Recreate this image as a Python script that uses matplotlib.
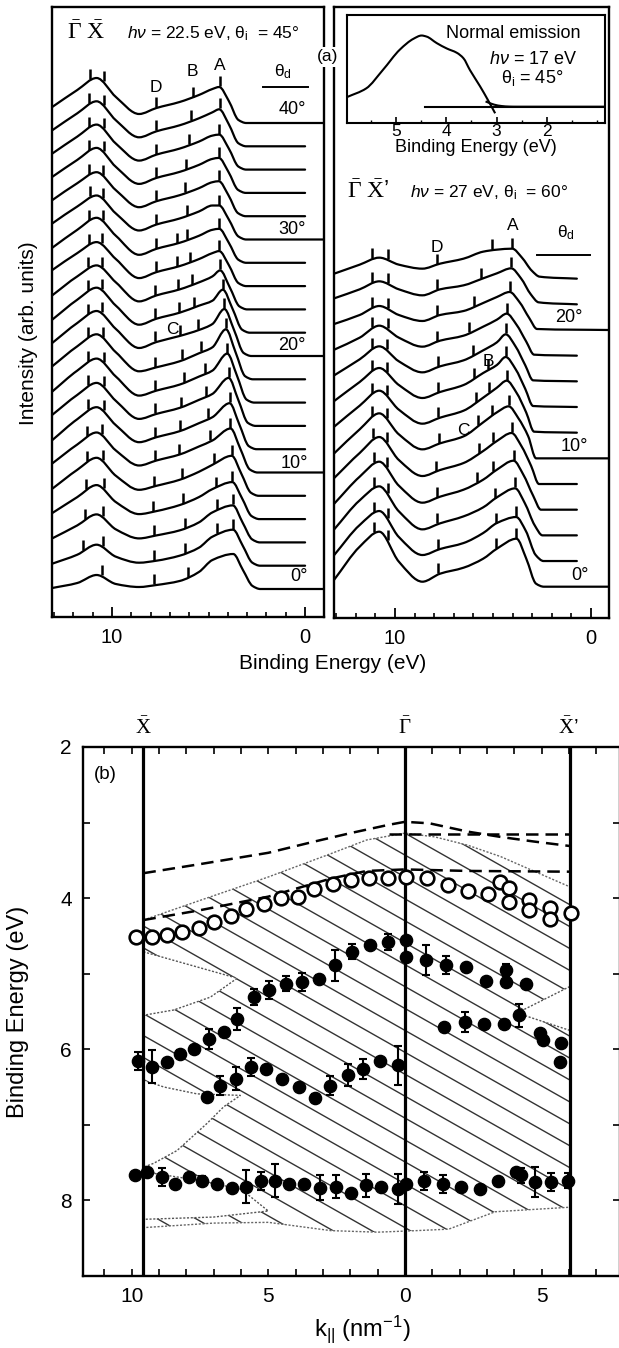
import numpy as np
import matplotlib
matplotlib.use("Agg")
import matplotlib.pyplot as plt
from matplotlib.path import Path
from matplotlib.patches import PathPatch, Polygon
from matplotlib.lines import Line2D
from matplotlib.ticker import FixedLocator, FuncFormatter, MultipleLocator

plt.rcParams.update({
    "font.family": ["Liberation Sans", "DejaVu Sans"],
    "mathtext.fontset": "custom",
    "mathtext.rm": "Liberation Serif",
    "mathtext.it": "Liberation Sans:italic",
    "mathtext.sf": "Liberation Sans",
    "mathtext.bf": "Liberation Sans:bold",
})

W, H = 619, 1348

# ------------------------------------------------------------------ panel (a), left: Gamma-X, hv = 22.5 eV
L_THETA = [40, 38, 36, 34, 32, 30, 28, 26, 24, 22, 20, 18, 16, 14, 12, 10, 8, 6, 4, 2, 0]
KNOT_E = [13.1, 11.8, 10.8, 9.8, 8.6, 7.7, 6.5, 5.5, 4.8]
L_H131 = [16, 16, 16, 16, 16, 16, 15, 16, 14, 13, 13, 13, 11, 11, 9, 9, 7, 6, 4, 2, 1]
L_H118 = [33, 33, 33, 33, 33, 33, 33, 33, 33, 33, 33, 33, 32, 31, 30, 28, 26, 22, 17, 11, 6]
L_H108 = [45, 45, 45, 45, 44, 44, 45, 44, 44, 45, 45, 45, 44, 43, 42, 40, 38, 34, 28, 21, 14]
L_H98 = [26, 26, 26, 26, 26, 26, 27, 27, 27, 27, 27, 27, 26, 25, 24, 22, 20, 17, 13, 9, 5]
L_H86 = [9, 9, 9, 9, 9, 9, 8, 8, 8, 8, 8, 8, 7, 7, 7, 7, 6, 5, 4, 3, 2]
L_H77 = [15, 15, 15, 15, 15, 15, 14, 14, 14, 14, 14, 12, 12, 12, 12, 12, 10, 8, 7, 5, 4]
L_H65 = [21, 21, 21, 21, 21, 21, 20, 20, 20, 20, 20, 18, 18, 18, 18, 18, 16, 14, 12, 10, 8]
L_H55 = [28, 28, 28, 28, 28, 28, 27, 27, 27, 27, 26, 26, 26, 26, 26, 26, 24, 22, 20, 18, 17]
L_H48 = [34, 34, 34, 34, 34, 34, 33, 33, 33, 32, 32, 32, 32, 32, 32, 32, 31, 30, 30, 29, 29]
L_EA = [4.45, 4.45, 4.45, 4.47, 4.47, 4.45, 4.45, 4.45, 4.40, 4.26, 4.18, 4.10, 4.03, 3.96, 3.91,
        3.86, 3.80, 3.77, 3.74, 3.73, 3.72]
L_HA = [36, 37, 35, 35, 35, 34, 34, 35, 39, 43, 47, 50, 49, 48, 46, 44, 40, 37, 37, 36, 35]
L_HA1 = [22, 22, 21, 21, 21, 20, 20, 21, 22, 24, 26, 27, 27, 26, 25, 24, 22, 21, 20, 20, 19]
L_HA2 = [3, 3, 3, 3, 3, 3, 3, 3, 3, 3, 3, 3, 3, 3, 3, 3, 3, 3, 3, 3, 3]
L_HA3 = [0, 0, 0, 0, 0, 0, 0, 0, 0, 0, 0, 0, 0, 0, 0, 0, 0, 0, 0, 0, 0]
L_TICKS = [
    [11.13, 10.44, 7.73, 5.83, 4.40],
    [11.20, 10.44, 7.73, 5.91, 4.42],
    [11.20, 10.44, 7.73, 5.99, 4.45],
    [11.20, 10.44, 7.73, 6.16, 4.48],
    [11.20, 10.47, 7.73, 6.22, 4.48],
    [11.13, 10.47, 7.73, 6.12, 4.45],
    [11.18, 10.47, 7.70, 6.64, 6.12, 4.48],
    [11.18, 10.52, 7.72, 6.62, 5.97, 4.48],
    [11.22, 10.52, 7.75, 6.58, 5.84, 4.43],
    [11.22, 10.52, 7.79, 6.53, 5.77, 4.26],
    [11.25, 10.52, 7.76, 6.48, 5.55, 4.20],
    [11.22, 10.47, 7.76, 6.36, 5.38, 4.12],
    [11.22, 10.44, 7.76, 6.28, 5.20, 4.05],
    [11.22, 10.44, 7.79, 6.45, 5.11, 3.96],
    [11.22, 10.44, 7.79, 6.48, 5.03, 3.91],
    [11.28, 10.52, 7.79, 6.55, 4.90, 3.88],
    [11.30, 10.48, 7.85, 6.40, 4.70, 3.80],
    [11.33, 10.44, 7.90, 6.30, 4.63, 3.77],
    [11.39, 10.47, 7.82, 6.22, 4.55, 3.72],
    [11.48, 10.47, 7.82, 6.20, 4.55, 3.72],
    [10.52, 7.82, 6.05],
]

# ------------------------------------------------------------------ panel (a), right: Gamma-X', hv = 27 eV
R_THETA = [24, 22, 20, 18, 16, 14, 12, 10, 8, 6, 4, 2, 0]
R_H131 = [5, 6, 6, 6, 6, 6, 6, 5, 6, 6, 6, 6, 7]
R_H118 = [14, 15, 15, 18, 22, 25, 27, 29, 31, 33, 35, 36, 40]
R_H108 = [21, 23, 24, 30, 35, 39, 42, 45, 47, 48, 49, 50, 55]
R_H98 = [14, 15, 15, 18, 20, 22, 23, 24, 24, 24, 24, 24, 25]
R_H86 = [10, 9, 9, 9, 9, 9, 9, 9, 8, 7, 6, 6, 5]
R_H77 = [15, 15, 15, 15, 15, 15, 15, 15, 14, 13, 12, 12, 13]
R_H65 = [20, 19, 19, 20, 21, 22, 22, 22, 21, 20, 19, 18, 19]
R_H55 = [27, 26, 27, 29, 31, 34, 35, 36, 33, 30, 28, 28, 28]
R_H48 = [29, 31, 33, 36, 39, 42, 45, 46, 43, 40, 38, 38, 38]
R_EA = [4.02, 4.07, 4.15, 4.30, 4.35, 4.35, 4.30, 4.20, 4.05, 3.95, 3.87, 3.82, 3.80]
R_HA = [30, 36, 38, 42, 47, 50, 52, 52, 51, 49, 47, 44, 48]
R_HA1 = [21, 26, 28, 31, 35, 38, 40, 40, 38, 35, 32, 30, 28]
R_HA2 = [8, 10, 12, 14, 16, 18, 20, 22, 18, 14, 10, 6, 3]
R_HA3 = [2, 2, 1, 1, 1, 1, 1, 0, 0, 0, 0, 0, 0]
R_TICKS = [
    [11.15, 10.38, 7.86, 5.05, 4.02],
    [11.15, 10.38, 7.83, 5.62, 4.07],
    [11.15, 10.38, 7.83, 5.95, 4.15],
    [11.15, 10.38, 7.83, 6.20, 4.30],
    [11.18, 10.41, 7.80, 6.02, 4.35],
    [11.18, 10.41, 7.78, 5.96, 5.23, 4.35],
    [11.18, 10.41, 7.78, 5.86, 5.18, 4.30],
    [11.18, 10.41, 7.75, 5.74, 5.05, 4.20],
    [11.10, 10.41, 7.90, 5.70, 4.98, 4.05],
    [11.06, 10.41, 7.88, 5.82, 4.98, 3.95],
    [11.06, 10.38, 7.85, 4.92, 3.87],
    [11.06, 10.38, 7.80, 4.87, 3.82],
    [11.06, 10.38, 7.80, 4.83, 3.80],
]

# ------------------------------------------------------------------ inset: normal emission, hv = 17 eV
INSET_E = [5.97, 5.59, 5.26, 4.92, 4.65, 4.49, 4.39, 4.19, 3.99, 3.79, 3.66, 3.53, 3.33, 3.17, 3.03]
INSET_I = [0.24, 0.32, 0.49, 0.68, 0.78, 0.81, 0.80, 0.74, 0.69, 0.65, 0.60, 0.49, 0.34, 0.21, 0.09]
TAIL_E = [3.22, 3.05, 2.90, 2.75, 2.60, 0.85]
TAIL_I = [0.20, 0.170, 0.157, 0.152, 0.151, 0.151]
BASE_E = [4.42, 0.85]
BASE_I = [0.151, 0.151]

# ------------------------------------------------------------------ panel (b): band structure
XBAR, GAMMA, XBARP = -9.57, 0.0, 6.03
OPEN_K = [-9.85, -9.24, -8.69, -8.14, -7.53, -6.98, -6.37, -5.82, -5.15, -4.54, -3.93, -3.32, -2.65,
          -1.98, -1.31, -0.63, 0.04, 0.81, 1.56, 2.30, 3.05, 3.46, 3.82, 3.82, 4.55, 4.55, 5.29,
          5.29, 6.06]
OPEN_E = [4.51, 4.51, 4.49, 4.45, 4.40, 4.31, 4.23, 4.14, 4.08, 4.00, 3.98, 3.88, 3.81, 3.76, 3.73,
          3.73, 3.72, 3.74, 3.83, 3.90, 3.94, 3.78, 3.87, 4.05, 4.03, 4.16, 4.13, 4.28, 4.20]

B1_K = [-6.14, -5.53, -4.98, -4.37, -3.75, -3.14, -2.55, -1.92, -1.28, -0.63, 0.04, 0.04, 0.77, 1.50,
        2.24, 2.97, 3.70, 3.70, 4.44]
B1_E = [5.60, 5.31, 5.22, 5.13, 5.11, 5.07, 4.89, 4.71, 4.62, 4.58, 4.56, 4.78, 4.82, 4.89, 4.91,
        5.09, 4.95, 5.11, 5.13]
B1_ERR = [0.14, 0.11, 0.12, 0.10, 0.12, 0.05, 0.20, 0.10, 0.0, 0.10, 0.0, 0.0, 0.20, 0.12, 0.0,
          0.0, 0.08, 0.0, 0.0]
B2_K = [-9.75, -9.26, -8.71, -8.22, -7.73, -7.18, -6.63]
B2_E = [6.15, 6.23, 6.17, 6.06, 5.99, 5.86, 5.77]
B2_ERR = [0.12, 0.22, 0.0, 0.05, 0.0, 0.13, 0.0]
B3_K = [1.44, 2.18, 2.91, 3.64, 4.19, 4.93, 5.05, 5.72, 5.66]
B3_E = [5.70, 5.64, 5.66, 5.66, 5.55, 5.79, 5.88, 5.92, 6.17]
B3_ERR = [0.0, 0.13, 0.0, 0.0, 0.15, 0.0, 0.0, 0.0, 0.0]
B4_K = [-7.24, -6.75, -6.20, -5.65, -5.10, -4.49, -3.88, -3.30, -2.75, -2.10, -1.55, -0.92, -0.27]
B4_E = [6.63, 6.48, 6.39, 6.23, 6.26, 6.39, 6.50, 6.64, 6.48, 6.34, 6.26, 6.15, 6.21]
B4_ERR = [0.0, 0.13, 0.15, 0.12, 0.0, 0.0, 0.0, 0.05, 0.12, 0.15, 0.13, 0.0, 0.26]
B5_K = [-9.87, -9.44, -8.89, -8.40, -7.91, -7.42, -6.88, -6.33, -5.81, -5.28, -4.77, -4.25, -3.70,
        -3.10, -2.53, -1.98, -1.43, -0.88, -0.27, 0.04, 0.71, 1.38, 2.06, 2.73, 3.40, 4.07, 4.26,
        4.74, 5.36, 5.96]
B5_E = [7.67, 7.63, 7.69, 7.78, 7.69, 7.74, 7.78, 7.83, 7.82, 7.74, 7.74, 7.78, 7.78, 7.83, 7.82,
        7.90, 7.80, 7.82, 7.85, 7.78, 7.74, 7.78, 7.82, 7.85, 7.74, 7.63, 7.67, 7.76, 7.76, 7.74]
B5_ERR = [0.0, 0.0, 0.12, 0.0, 0.0, 0.06, 0.0, 0.0, 0.22, 0.12, 0.22, 0.0, 0.0, 0.16, 0.15, 0.0,
          0.15, 0.0, 0.20, 0.0, 0.12, 0.12, 0.0, 0.0, 0.0, 0.0, 0.10, 0.20, 0.12, 0.10]

D1_K = [-9.57, -7.5, -5.0, -3.3, -2.0, -0.6, 0.0, 0.9, 2.3, 3.5, 4.7, 6.03]
D1_E = [3.67, 3.55, 3.40, 3.25, 3.14, 3.03, 2.99, 3.01, 3.12, 3.19, 3.25, 3.31]
D2_K = [-0.6, 6.03]
D2_E = [3.15, 3.15]
D3_K = [-9.57, -7.5, -5.0, -2.7, -1.4, 0.0, 2.3, 6.03]
D3_E = [4.29, 4.16, 3.98, 3.74, 3.64, 3.62, 3.64, 3.65]

HATCH_TOP_K = [-9.57, -7.5, -5.0, -2.7, -1.4, 0.0, 1.1, 2.3, 3.5, 6.03]
HATCH_TOP_E = [4.29, 4.03, 3.72, 3.41, 3.23, 3.14, 3.19, 3.30, 3.45, 3.85]
HATCH_BOT_K = [6.03, 3.3, 1.6, 0.4, -1.0, -2.7, -5.0, -7.0, -9.57]
HATCH_BOT_E = [8.09, 8.15, 8.38, 8.40, 8.42, 8.40, 8.29, 8.30, 8.36]
GAP1_K = [-9.57, -6.14, -7.12, -8.46, -9.57]
GAP1_E = [4.71, 5.06, 5.31, 5.48, 5.55]
GAP2_K = [-9.57, -8.81, -7.61, -6.02, -6.63, -7.24, -8.34, -9.2, -9.57]
GAP2_E = [6.41, 6.50, 6.59, 6.61, 6.76, 6.98, 7.34, 7.51, 7.56]
GAP3_K = [6.03, 4.1, 6.03]
GAP3_E = [5.17, 5.52, 5.75]
GAP4_K = [-9.57, -7.8, -6.0, -5.0, -7.0, -9.57]
GAP4_E = [7.62, 7.72, 7.85, 8.14, 8.22, 8.25]


# ------------------------------------------------------------------ helpers
def rect(l, t, r, b):
    return [l / W, 1 - b / H, (r - l) / W, (b - t) / H]


def ftext(x, y, s, **kw):
    kw.setdefault("ha", "center")
    kw.setdefault("va", "center")
    return fig.text(x / W, 1 - y / H, s, **kw)


def fline(x0, x1, y, lw=1.4):
    fig.add_artist(Line2D([x0 / W, x1 / W], [1 - y / H, 1 - y / H], color="k", lw=lw,
                          transform=fig.transFigure))


def tangents(x, y):
    h = np.diff(x)
    d = np.diff(y) / h
    m = np.zeros_like(y)
    m[0], m[-1] = d[0], d[-1]
    for k in range(1, len(x) - 1):
        if d[k - 1] * d[k] <= 0:
            m[k] = 0.0
        else:
            w1 = 2 * h[k] + h[k - 1]
            w2 = h[k] + 2 * h[k - 1]
            m[k] = (w1 + w2) / (w1 / d[k - 1] + w2 / d[k])
    return m


def prep(x, y):
    x = np.asarray(x, float)
    y = np.asarray(y, float)
    o = np.argsort(x)
    return x[o], y[o]


def smooth_path(x, y):
    x, y = prep(x, y)
    m = tangents(x, y)
    verts = [(x[0], y[0])]
    codes = [Path.MOVETO]
    for k in range(len(x) - 1):
        h = x[k + 1] - x[k]
        verts += [(x[k] + h / 3, y[k] + m[k] * h / 3),
                  (x[k + 1] - h / 3, y[k + 1] - m[k + 1] * h / 3),
                  (x[k + 1], y[k + 1])]
        codes += [Path.CURVE4] * 3
    return Path(verts, codes)


def smooth_eval(x, y, xq):
    x, y = prep(x, y)
    m = tangents(x, y)
    out = []
    for q in np.atleast_1d(xq):
        k = int(np.clip(np.searchsorted(x, q) - 1, 0, len(x) - 2))
        h = x[k + 1] - x[k]
        t = (q - x[k]) / h
        out.append((2 * t**3 - 3 * t**2 + 1) * y[k] + (t**3 - 2 * t**2 + t) * h * m[k]
                   + (-2 * t**3 + 3 * t**2) * y[k + 1] + (t**3 - t**2) * h * m[k + 1])
    return np.array(out)


def style_spectra_axes(ax, xlim, ylim):
    ax.set_xlim(*xlim)
    ax.set_ylim(*ylim)
    ax.set_yticks([])
    ax.xaxis.set_major_locator(FixedLocator([0, 10]))
    ax.xaxis.set_minor_locator(MultipleLocator(1))
    ax.tick_params(axis="x", which="major", direction="in", length=7, width=1.3,
                   labelsize=14.5, pad=8)
    ax.tick_params(axis="x", which="minor", direction="in", length=3.5, width=1.2)
    for sp in ax.spines.values():
        sp.set_linewidth(1.7)


def draw_stack(ax, thetas, step, heights, EA, HA, HA1, HA2, HA3, ticks, e_end, e_axis_end):
    for i, th in enumerate(thetas):
        off = th / 2 * step
        a = EA[i]
        end = e_axis_end if th % 10 == 0 else e_end
        xs = KNOT_E + [a, a - 0.5, a - 1.0, a - 1.4, end]
        ys = [h[i] for h in heights] + [HA[i], HA1[i], HA2[i], HA3[i], 0.0]
        ys = [v + off for v in ys]
        ax.add_patch(PathPatch(smooth_path(xs, ys), fill=False, ec="k", lw=1.6,
                               capstyle="round", joinstyle="round"))
        ty = smooth_eval(xs, ys, ticks[i]) + 6
        ax.plot(ticks[i], ty, ls="none", marker="|", ms=6.5, mew=1.8, color="k")


fig = plt.figure(figsize=(W / 100, H / 100), dpi=100)

# ------------------------------------------------------------------ (a) left
axL = fig.add_axes(rect(52, 7, 324, 617))
style_spectra_axes(axL, (13.11, -0.98), (-28, 582))
draw_stack(axL, L_THETA, 23.3,
           [L_H131, L_H118, L_H108, L_H98, L_H86, L_H77, L_H65, L_H55, L_H48],
           L_EA, L_HA, L_HA1, L_HA2, L_HA3, L_TICKS, 0.0, -0.98)

# ------------------------------------------------------------------ (a) right
axR = fig.add_axes(rect(334, 7, 609, 618))
style_spectra_axes(axR, (13.11, -0.92), (-31.3, 579.7))
draw_stack(axR, R_THETA, 25.67,
           [R_H131, R_H118, R_H108, R_H98, R_H86, R_H77, R_H65, R_H55, R_H48],
           R_EA, R_HA, R_HA1, R_HA2, R_HA3, R_TICKS, 0.72, -0.92)

# ------------------------------------------------------------------ inset
axI = fig.add_axes(rect(347, 15, 605, 123))
axI.set_xlim(5.97, 0.85)
axI.set_ylim(0, 1)
axI.set_yticks([])
axI.add_patch(PathPatch(smooth_path(INSET_E, INSET_I), fill=False, ec="k", lw=1.5))
axI.add_patch(PathPatch(smooth_path(TAIL_E, TAIL_I), fill=False, ec="k", lw=1.5))
axI.plot(BASE_E, BASE_I, color="k", lw=1.5)
axI.xaxis.set_major_locator(FixedLocator([5, 4, 3, 2]))
axI.xaxis.set_minor_locator(MultipleLocator(0.5))
axI.tick_params(axis="x", which="major", direction="in", length=4, width=1.2, labelsize=12.5, pad=1)
axI.tick_params(axis="x", which="minor", direction="in", length=2.5, width=1.0)
for sp in axI.spines.values():
    sp.set_linewidth(1.5)
ftext(476, 148, "Binding Energy (eV)", fontsize=13)
ftext(580, 33, "Normal emission", fontsize=13, ha="right")
ftext(577, 59, r"$\mathit{h\nu}$ = 17 eV", fontsize=13, ha="right")
ftext(563, 78, r"$\mathsf{\theta}_{\mathsf{i}}$ = 45°", fontsize=13, ha="right")

# ------------------------------------------------------------------ (a) annotations
ftext(67, 33, r"$\bar{\Gamma}\;\bar{\mathrm{X}}$", fontsize=17, ha="left")
ftext(127, 34, r"$\mathit{h\nu}$ = 22.5 eV, $\mathsf{\theta}_{\mathsf{i}}$  = 45°", fontsize=12.5, ha="left")
ftext(347, 192, r"$\bar{\Gamma}\;\bar{\mathrm{X}}$’", fontsize=17, ha="left")
ftext(410, 193, r"$\mathit{h\nu}$ = 27 eV, $\mathsf{\theta}_{\mathsf{i}}$  = 60°", fontsize=12.5, ha="left")
ftext(328, 57, "(a)", fontsize=12.5, bbox=dict(fc="white", ec="none", pad=1.5))

ftext(283, 72, r"$\mathsf{\theta}_{\mathsf{d}}$", fontsize=12.5)
fline(263, 308, 87)
ftext(566, 233, r"$\mathsf{\theta}_{\mathsf{d}}$", fontsize=12.5)
fline(537, 590, 255)

for s, x, y in [("D", 156, 87), ("B", 192, 72), ("A", 220, 65), ("C", 172, 330),
                ("D", 437, 247), ("A", 513, 226), ("B", 488, 362), ("C", 463, 430)]:
    ftext(x, y, s, fontsize=12.5)
for s, x, y in [("40°", 292, 110), ("30°", 292, 229), ("20°", 292, 346), ("10°", 294, 463),
                ("0°", 299, 577), ("20°", 569, 318), ("10°", 574, 446), ("0°", 580, 576)]:
    ftext(x, y, s, fontsize=13)

ftext(29, 333, "Intensity (arb. units)", fontsize=15, rotation=90)
ftext(333, 663, "Binding Energy (eV)", fontsize=15)

# ------------------------------------------------------------------ (b)
axB = fig.add_axes(rect(83, 747, 619.5, 1276))
axB.set_xlim(-11.78, 7.85)
axB.set_ylim(9, 2)

hatch_poly = Polygon(list(zip(HATCH_TOP_K + HATCH_BOT_K, HATCH_TOP_E + HATCH_BOT_E)),
                     closed=True, fill=False, ec="#666666", lw=1.0, ls=(0, (1.5, 1.2)), zorder=2)
axB.add_patch(hatch_poly)
slope = 0.205
for c in np.arange(1.4, 10.9, 0.29):
    kk = np.array([-10.0, 7.0])
    ln, = axB.plot(kk, c + slope * kk, color="#333333", lw=1.0, zorder=1)
    ln.set_clip_path(hatch_poly)
for gk, ge in [(GAP1_K, GAP1_E), (GAP2_K, GAP2_E), (GAP3_K, GAP3_E), (GAP4_K, GAP4_E)]:
    axB.add_patch(Polygon(list(zip(gk, ge)), closed=True, fc="white", ec="#555555", lw=1.0,
                          ls=(0, (1.5, 1.2)), zorder=2))

for dk, de in [(D1_K, D1_E), (D2_K, D2_E), (D3_K, D3_E)]:
    axB.plot(dk, de, color="k", lw=1.8, ls=(0, (5, 2.8)), zorder=3)

for xv in (XBAR, GAMMA, XBARP):
    axB.axvline(xv, color="k", lw=2.3, zorder=3.5)

for bk, be, berr in [(B1_K, B1_E, B1_ERR), (B2_K, B2_E, B2_ERR), (B3_K, B3_E, B3_ERR),
                     (B4_K, B4_E, B4_ERR), (B5_K, B5_E, B5_ERR)]:
    axB.errorbar(bk, be, yerr=berr, fmt="o", ms=8.8, mfc="k", mec="k", ecolor="k",
                 elinewidth=1.5, capsize=3, capthick=1.5, zorder=5)
axB.plot(OPEN_K, OPEN_E, "o", ms=9.8, mfc="white", mec="k", mew=1.9, zorder=6)

axB.xaxis.set_major_locator(MultipleLocator(1))
axB.xaxis.set_major_formatter(FuncFormatter(
    lambda v, p: str(abs(int(round(v)))) if int(round(v)) in (-10, -5, 0, 5) else ""))
axB.yaxis.set_major_locator(MultipleLocator(1))
axB.yaxis.set_major_formatter(FuncFormatter(
    lambda v, p: str(int(round(v))) if int(round(v)) in (2, 4, 6, 8) else ""))
axB.tick_params(which="both", direction="in", top=True, right=True, length=5, width=1.2,
                labelsize=15, pad=8)
for sp in axB.spines.values():
    sp.set_linewidth(1.7)

tr = axB.get_xaxis_transform()
axB.text(XBAR, 1.038, r"$\bar{\mathrm{X}}$", transform=tr, ha="center", va="center", fontsize=15)
axB.text(GAMMA, 1.038, r"$\bar{\Gamma}$", transform=tr, ha="center", va="center", fontsize=15)
axB.text(XBARP - 0.42, 1.038, r"$\bar{\mathrm{X}}$’", transform=tr, ha="left", va="center",
         fontsize=15)
ftext(105, 775, "(b)", fontsize=13.5)
ftext(18, 1012, "Binding Energy (eV)", fontsize=17, rotation=90)
ftext(362, 1329, r"k$_{\mathsf{||}}$ (nm$^{\mathsf{-1}}$)", fontsize=17)

fig.savefig("out.png", dpi=100)
